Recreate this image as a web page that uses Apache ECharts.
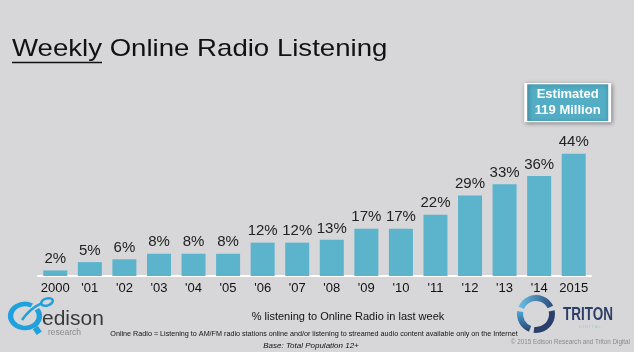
<!DOCTYPE html>
<html>
<head>
<meta charset="utf-8">
<script src="https://cdn.jsdelivr.net/npm/echarts@6/dist/echarts.min.js"></script>
<style>
html,body{margin:0;padding:0;background:#d7d7d9;}
#chart{width:634px;height:352px;}
</style>
</head>
<body>
<div id="chart"></div>
<script>
var categories = ['2000', "'01", "'02", "'03", "'04", "'05", "'06", "'07", "'08", "'09", "'10", "'11", "'12", "'13", "'14", '2015'];
var values = [2, 5, 6, 8, 8, 8, 12, 12, 13, 17, 17, 22, 29, 33, 36, 44];
var titleText = 'Weekly Online Radio Listening';
var calloutText = 'Estimated\n119 Million';
var subtitleText = '% listening to Online Radio in last week';
var noteText = 'Online Radio = Listening to AM/FM radio stations online and/or listening to streamed audio content available only on the Internet';
var baseText = 'Base: Total Population 12+';
var copyrightText = '\u00A9 2015 Edison Research and Triton Digital';

var chart = echarts.init(document.getElementById('chart'), null, {renderer: 'canvas'});
var font = '"Liberation Sans", Arial, sans-serif';

chart.setOption({
  backgroundColor: '#d7d7d9',
  animation: false,
  grid: {left: 38, right: 43, top: 137, bottom: 76},
  xAxis: {
    type: 'category',
    data: categories,
    axisLine: {lineStyle: {color: '#ffffff', width: 2}},
    axisTick: {show: false},
    axisLabel: {interval: 0, color: '#111', fontSize: 13, fontFamily: font, margin: 6}
  },
  yAxis: {
    type: 'value', min: 0, max: 50, show: false,
    splitLine: {show: false}
  },
  series: [{
    type: 'bar',
    data: values,
    barWidth: 24,
    itemStyle: {color: '#5bb4cc'},
    label: {
      show: true, position: 'top', distance: 4,
      formatter: '{c}%', color: '#222', fontSize: 15, fontFamily: font
    },
    markPoint: {
      symbol: 'rect',
      symbolSize: [84, 38],
      symbolOffset: [-6, -51],
      data: [{coord: ['2015', 44], value: calloutText}],
      itemStyle: {
        color: '#52adc5', borderColor: '#ffffff', borderWidth: 2,
        shadowBlur: 4, shadowColor: 'rgba(0,0,0,0.35)', shadowOffsetX: 1, shadowOffsetY: 1
      },
      label: {
        show: true, position: 'inside', formatter: calloutText,
        color: '#ffffff', fontSize: 13, fontWeight: 'bold', fontFamily: font, lineHeight: 16
      }
    }
  }],
  graphic: [
    {type: 'text', x: 12, y: 49, scaleX: 1.15, silent: true,
     style: {text: titleText, font: '24px ' + font, fill: '#111', verticalAlign: 'middle'}},
    {type: 'line', shape: {x1: 12, y1: 62.5, x2: 102, y2: 62.5}, style: {stroke: '#111', lineWidth: 1.5}},
    {type: 'text', x: 348, y: 317, silent: true,
     style: {text: subtitleText, font: '11px ' + font, fill: '#111', align: 'center', verticalAlign: 'middle'}},
    {type: 'text', x: 314, y: 334, silent: true,
     style: {text: noteText, font: '7.2px ' + font, fill: '#111', align: 'center', verticalAlign: 'middle'}},
    {type: 'text', x: 311, y: 346, silent: true,
     style: {text: baseText, font: 'italic 8px ' + font, fill: '#111', align: 'center', verticalAlign: 'middle'}},
    {type: 'text', x: 630, y: 342, silent: true,
     style: {text: copyrightText, font: '6.3px ' + font, fill: '#8a8a8a', align: 'right', verticalAlign: 'middle'}},
    // Edison logo
    {type: 'arc', shape: {cx: 25, cy: 316, r: 12, startAngle: -0.6, endAngle: 5.2},
     scaleX: 1.2, x: 0, originX: 25, originY: 316,
     style: {fill: 'none', stroke: '#1ea1dc', lineWidth: 4.5}},
    {type: 'bezierCurve', shape: {x1: 22, y1: 320, x2: 42, y2: 303, cpx1: 30, cpy1: 308, cpx2: 38, cpy2: 305},
     style: {fill: 'none', stroke: '#1ea1dc', lineWidth: 2.5}},
    {type: 'ellipse', shape: {cx: 47, cy: 302, rx: 6, ry: 3.5}, rotation: 0.3, originX: 47, originY: 302,
     style: {fill: 'none', stroke: '#1ea1dc', lineWidth: 2.5}},
    {type: 'rect', shape: {x: 34, y: 327, width: 6, height: 7}, rotation: 0.6, originX: 37, originY: 330,
     style: {fill: '#1ea1dc'}},
    {type: 'text', x: 42, y: 319, silent: true,
     style: {text: 'edison', font: '21px ' + font, fill: '#3a3a3a', verticalAlign: 'middle'}},
    {type: 'text', x: 48, y: 333, silent: true,
     style: {text: 'research', font: '8.5px ' + font, fill: '#8a8a8a', verticalAlign: 'middle', letterSpacing: 1.3}},
    // Triton logo
    {type: 'sector', shape: {cx: 536, cy: 314, r: 19, r0: 13, startAngle: -2.75, endAngle: -0.45},
     style: {fill: new echarts.graphic.LinearGradient(0, 0, 1, 0, [{offset: 0, color: '#6cc3ea'}, {offset: 1, color: '#2a4a7a'}])}},
    {type: 'sector', shape: {cx: 536, cy: 314, r: 19, r0: 13, startAngle: -0.2, endAngle: 1.7},
     style: {fill: '#2b3f6c'}},
    {type: 'sector', shape: {cx: 536, cy: 314, r: 19, r0: 13, startAngle: 1.95, endAngle: 3.3},
     style: {fill: new echarts.graphic.LinearGradient(0, 0, 0, 1, [{offset: 0, color: '#4aa8dc'}, {offset: 1, color: '#2b3f6c'}])}},
    {type: 'text', x: 563, y: 315, scaleX: 0.75, silent: true,
     style: {text: 'TRITON', font: 'bold 18px ' + font, fill: '#2c3e66', verticalAlign: 'middle'}},
    {type: 'text', x: 590, y: 327, silent: true,
     style: {text: 'D I G I T A L', font: '4px ' + font, fill: '#9fc6dc', align: 'center', verticalAlign: 'middle'}}
  ]
});
</script>
</body>
</html>
